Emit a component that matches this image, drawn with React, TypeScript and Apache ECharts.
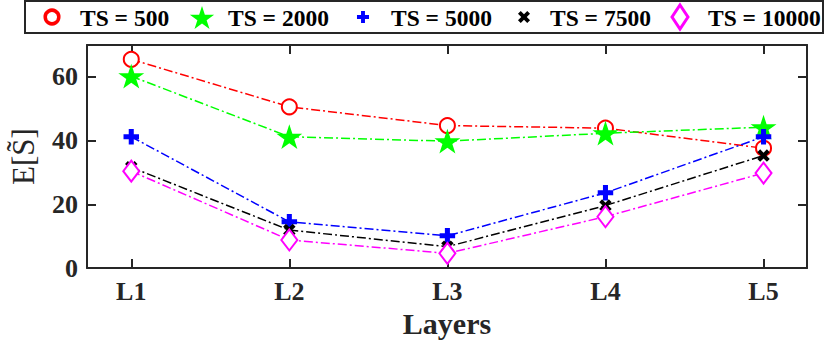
import React, { useEffect, useRef } from 'react';
import * as echarts from 'echarts';

const categories = ['L1', 'L2', 'L3', 'L4', 'L5'];
const seriesNames = ['TS = 500', 'TS = 2000', 'TS = 5000', 'TS = 7500', 'TS = 10000'];
const ts500 = [65.5, 50.6, 44.7, 43.9, 37.6];
const ts2000 = [60.2, 41.2, 39.8, 42.3, 44.2];
const ts5000 = [41.2, 14.5, 10.1, 23.6, 41.2];
const ts7500 = [31.6, 11.9, 6.7, 19.6, 35.3];
const ts10000 = [30.4, 8.8, 4.6, 16.1, 29.8];
const yTicks = [0, 20, 40, 60];
const xTicks = [1, 2, 3, 4, 5];

const FONT = "'Liberation Serif', 'Times New Roman', serif";
const AXIS = '#262626';
const COLORS = ['#ff0000', '#00ff00', '#0000ff', '#000000', '#ff00ff'];

// marker outlines in a 100x100 box
const starPts = [
  [50, 10], [59.87, 40.41], [91.85, 40.4], [65.98, 59.19], [75.86, 89.6],
  [50, 70.8], [24.14, 89.6], [34.02, 59.19], [8.15, 40.4], [40.13, 40.41],
];
const plusPts = [
  [43, 28.5], [57, 28.5], [57, 43], [71.5, 43], [71.5, 57], [57, 57],
  [57, 71.5], [43, 71.5], [43, 57], [28.5, 57], [28.5, 43], [43, 43],
];
const crossPts = [
  [59.9, 50], [71.5, 61.6], [61.6, 71.5], [50, 59.9], [38.4, 71.5], [28.5, 61.6],
  [40.1, 50], [28.5, 38.4], [38.4, 28.5], [50, 40.1], [61.6, 28.5], [71.5, 38.4],
];
const diamondPts = [[50, 7], [78.5, 50], [50, 93], [21.5, 50]];

const PAD = ' M0 0 M100 100';
const toPath = (pts: number[][]) => 'path://M' + pts.map((p) => p.join(' ')).join(' L') + ' Z' + PAD;

const DASH = [9, 3, 2, 3];

export default function App() {
  const ref = useRef<HTMLDivElement>(null);
  useEffect(() => {
    if (!ref.current) return;
    const chart = echarts.init(ref.current, undefined, { renderer: 'svg' });
    const toData = (vals: number[]) => vals.map((v, i) => [i + 1, v]);
    const mk = (
      name: string,
      vals: number[],
      color: string,
      symbol: string,
      size: number | number[],
      itemStyle: any
    ) => ({
      name,
      type: 'line',
      data: toData(vals),
      symbol,
      symbolSize: size,
      showAllSymbol: true,
      lineStyle: { color, width: 1.5, type: DASH },
      itemStyle: { color, ...itemStyle },
      emphasis: { disabled: true },
    });
    const axisCommon = {
      axisLine: { show: true, onZero: false, lineStyle: { color: AXIS, width: 2 } },
      splitLine: { show: false },
    };

    // legend drawn with graphic elements
    const iconX = [52, 202, 363, 524, 680];
    const textX = [80, 228, 391, 550, 708];
    const LY = 17;
    const poly = (pts: number[][], cx: number, cy: number, s: number, style: any) => ({
      type: 'polygon',
      silent: true,
      shape: { points: pts.map((p) => [cx + (p[0] - 50) * s, cy + (p[1] - 50) * s]) },
      style,
    });
    const legendGraphics: any[] = [
      {
        type: 'rect',
        silent: true,
        shape: { x: 25, y: 1, width: 798, height: 32 },
        style: { fill: '#fff', stroke: AXIS, lineWidth: 2 },
      },
      {
        type: 'circle',
        silent: true,
        shape: { cx: iconX[0], cy: LY, r: 6.8 },
        style: { fill: '#fff', stroke: COLORS[0], lineWidth: 3.5 },
      },
      poly(starPts, iconX[1], LY + 0.5, 0.29, { fill: COLORS[1] }),
      poly(plusPts, iconX[2], LY, 0.28, { fill: COLORS[2] }),
      poly(crossPts, iconX[3], LY, 0.28, { fill: COLORS[3] }),
      poly(diamondPts, iconX[4], LY, 0.28, { fill: '#fff', stroke: COLORS[4], lineWidth: 3 }),
      ...seriesNames.map((n, i) => ({
        type: 'text',
        silent: true,
        x: textX[i],
        y: LY + 1,
        style: {
          text: n,
          fontFamily: FONT,
          fontWeight: 'bold',
          fontSize: 23.5,
          fill: '#000',
          align: 'left',
          verticalAlign: 'middle',
        },
      })),
    ];

    chart.setOption({
      animation: false,
      backgroundColor: '#ffffff',
      grid: { left: 77, right: 23, top: 45, bottom: 76, containLabel: false },
      xAxis: [
        {
          type: 'value',
          min: 0.72,
          max: 5.275,
          position: 'bottom',
          ...axisCommon,
          axisTick: { show: true, inside: true, length: 9, customValues: xTicks, lineStyle: { color: AXIS, width: 2 } },
          axisLabel: {
            show: true,
            customValues: xTicks,
            margin: 10,
            formatter: (v: number) => categories[Math.round(v) - 1] ?? '',
            fontFamily: FONT,
            fontWeight: 'bold',
            fontSize: 26,
            color: AXIS,
          },
          name: 'Layers',
          nameLocation: 'middle',
          nameGap: 40,
          nameTextStyle: { fontFamily: FONT, fontWeight: 'bold', fontSize: 30, color: AXIS },
        },
        {
          type: 'value',
          min: 0.72,
          max: 5.275,
          position: 'top',
          ...axisCommon,
          axisTick: { show: true, inside: true, length: 9, customValues: xTicks, lineStyle: { color: AXIS, width: 2 } },
          axisLabel: { show: false },
        },
      ],
      yAxis: [
        {
          type: 'value',
          min: 0,
          max: 70,
          position: 'left',
          ...axisCommon,
          axisTick: { show: true, inside: true, length: 9, customValues: yTicks, lineStyle: { color: AXIS, width: 2 } },
          axisLabel: {
            show: true,
            customValues: yTicks,
            margin: 9,
            fontFamily: FONT,
            fontWeight: 'bold',
            fontSize: 26,
            color: AXIS,
          },
          name: 'E[S\u0303]',
          nameLocation: 'middle',
          nameRotate: 90,
          nameGap: 48,
          nameTextStyle: { fontFamily: FONT, fontSize: 31, color: AXIS },
        },
        {
          type: 'value',
          min: 0,
          max: 70,
          position: 'right',
          ...axisCommon,
          axisTick: { show: true, inside: true, length: 9, customValues: yTicks, lineStyle: { color: AXIS, width: 2 } },
          axisLabel: { show: false },
        },
      ],
      graphic: legendGraphics,
      series: [
        mk(seriesNames[0], ts500, COLORS[0], 'emptyCircle', 15, { borderWidth: 3.5 }),
        mk(seriesNames[1], ts2000, COLORS[1], toPath(starPts), 31, { borderWidth: 0 }),
        mk(seriesNames[2], ts5000, COLORS[2], toPath(plusPts), 36, { borderWidth: 0 }),
        mk(seriesNames[3], ts7500, COLORS[3], toPath(crossPts), 29, { borderWidth: 0 }),
        mk(seriesNames[4], ts10000, COLORS[4], 'emptyDiamond', [16, 21], { borderWidth: 3 }),
      ],
    });
    return () => chart.dispose();
  }, []);
  return (
    <div
      ref={ref}
      style={{ position: 'absolute', left: 0, top: 0, width: 830, height: 344, background: '#fff' }}
    />
  );
}
